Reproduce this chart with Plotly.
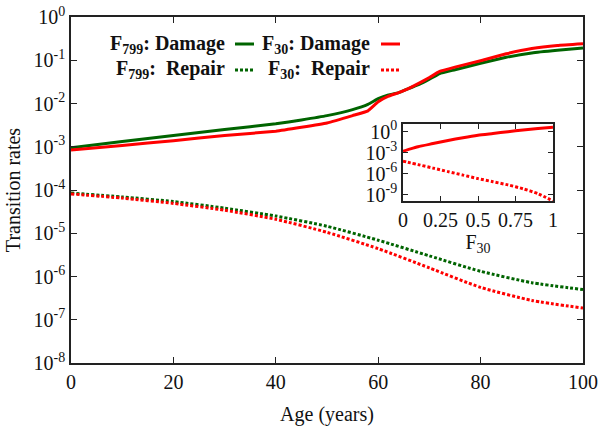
import plotly.graph_objects as go

# ---- data ----
age_damage = [0, 10, 20, 30, 40, 45, 50, 55, 58, 60, 62, 64, 66, 68, 70, 72, 75, 80, 85, 90, 95, 100]
f799_damage = [9.5e-4, 1.32e-3, 1.82e-3, 2.51e-3, 3.39e-3, 4.17e-3, 5.25e-3, 7.24e-3, 9.55e-3, 1.29e-2,
               1.58e-2, 1.78e-2, 2.24e-2, 2.75e-2, 3.63e-2, 4.90e-2, 6.03e-2, 8.51e-2, 0.117, 0.148,
               0.170, 0.191]
f30_damage = [8.4e-4, 1.07e-3, 1.38e-3, 1.82e-3, 2.29e-3, 2.82e-3, 3.55e-3, 5.25e-3, 6.76e-3, 1.10e-2,
              1.48e-2, 1.78e-2, 2.24e-2, 2.95e-2, 3.98e-2, 5.50e-2, 6.92e-2, 9.77e-2, 0.141, 0.186,
              0.219, 0.240]

age_repair = [0, 10, 20, 30, 40, 50, 60, 70, 80, 90, 100]
f799_repair = [8.5e-5, 6.9e-5, 5.4e-5, 3.8e-5, 2.5e-5, 1.45e-5, 6.9e-6, 3.0e-6, 1.32e-6, 7.2e-7, 5.0e-7]
f30_repair = [8.1e-5, 6.5e-5, 4.9e-5, 3.4e-5, 2.1e-5, 1.05e-5, 4.4e-6, 1.58e-6, 5.6e-7, 2.8e-7, 1.86e-7]

inset_f = [0, 0.05, 0.1, 0.2, 0.3, 0.4, 0.5, 0.6, 0.7, 0.8, 0.9, 1.0]
inset_damage = [1.6e-3, 3.5e-3, 7.1e-3, 2.0e-2, 5.6e-2, 0.141, 0.316, 0.56, 1.0, 1.78, 2.82, 4.47]
inset_repair = [6.3e-5, 3.5e-5, 2.0e-5, 6.3e-6, 2.0e-6, 6.3e-7, 2.0e-7, 7.1e-8, 2.5e-8, 7.1e-9, 1.4e-9, 1.26e-10]

x_ticks = [0, 20, 40, 60, 80, 100]
y_exps = [0, -1, -2, -3, -4, -5, -6, -7, -8]
inset_x_ticks = [0, 0.25, 0.5, 0.75, 1]
inset_x_labels = ["0", "0.25", "0.5", "0.75", "1"]
inset_y_exps = [0, -3, -6, -9]

GREEN = "#006400"
RED = "#ff0000"
FONT = "'Liberation Serif', 'Times New Roman', 'DejaVu Serif', serif"
DOT = "3px,2px"
TXT = "#111111"

fig = go.Figure()
fig.add_trace(go.Scatter(x=age_damage, y=f799_damage, mode="lines",
                         line=dict(color=GREEN, width=3, shape="spline", smoothing=0.3)))
fig.add_trace(go.Scatter(x=age_damage, y=f30_damage, mode="lines",
                         line=dict(color=RED, width=3, shape="spline", smoothing=0.3)))
fig.add_trace(go.Scatter(x=age_repair, y=f799_repair, mode="lines",
                         line=dict(color=GREEN, width=3, dash=DOT, shape="spline", smoothing=0.6)))
fig.add_trace(go.Scatter(x=age_repair, y=f30_repair, mode="lines",
                         line=dict(color=RED, width=3, dash=DOT, shape="spline", smoothing=0.6)))
fig.add_trace(go.Scatter(x=inset_f, y=inset_damage, mode="lines", xaxis="x2", yaxis="y2",
                         line=dict(color=RED, width=3, shape="spline", smoothing=0.6)))
fig.add_trace(go.Scatter(x=inset_f, y=inset_repair, mode="lines", xaxis="x2", yaxis="y2",
                         line=dict(color=RED, width=3, dash=DOT, shape="spline", smoothing=0.6)))

axis_common = dict(showgrid=False, zeroline=False, showline=True, linecolor="#222222", linewidth=1.5,
                   mirror="allticks", ticks="inside", tickcolor="#222222", tickwidth=1.2, automargin=False,
                   tickfont=dict(family=FONT, size=20, color=TXT))

# inset placement (paper coords)
L, R, T, B = 71, 583, 17, 363
W, H = R - L, B - T
ix0, ix1, iy0, iy1 = 403, 553, 124, 201
dom_x2 = [(ix0 - L) / W, (ix1 - L) / W]
dom_y2 = [(B - iy1) / H, (B - iy0) / H]

fig.update_layout(
    width=602, height=426,
    margin=dict(l=L, r=602 - R, t=T, b=426 - B, autoexpand=False),
    paper_bgcolor="white", plot_bgcolor="white",
    showlegend=False,
    font=dict(family=FONT, color=TXT),
    xaxis=dict(range=[0, 100], tickvals=x_ticks, ticklen=6,
               title=dict(text="Age (years)", font=dict(family=FONT, size=20, color=TXT), standoff=24),
               **axis_common),
    yaxis=dict(type="log", range=[-8, 0], tickvals=[10.0 ** e for e in y_exps],
               ticktext=["10<sup>%d</sup>" % e for e in y_exps], ticklen=6,
               title=dict(text="Transition rates", font=dict(family=FONT, size=20, color=TXT), standoff=8),
               **axis_common),
    xaxis2=dict(domain=dom_x2, anchor="y2", range=[0, 1], tickvals=inset_x_ticks, ticktext=inset_x_labels,
                ticklen=5,
                title=dict(text="F<sub>30</sub>", font=dict(family=FONT, size=20, color=TXT), standoff=0),
                **axis_common),
    yaxis2=dict(domain=dom_y2, anchor="x2", type="log", range=[-9.9, 1.1],
                tickvals=[10.0 ** e for e in inset_y_exps],
                ticktext=["10<sup>%d</sup>" % e for e in inset_y_exps], ticklen=5,
                **axis_common),
)

# white backing for the inset
fig.add_shape(type="rect", xref="paper", yref="paper", x0=dom_x2[0], x1=dom_x2[1], y0=dom_y2[0], y1=dom_y2[1],
              fillcolor="white", line=dict(width=0), layer="below")

# gnuplot-style legend (text right-aligned, sample to the right)
def px(x):
    return (x - L) / W

def py(y):
    return (B - y) / H

legend_items = [
    ("F<sub>799</sub>: Damage", GREEN, "solid", 227, 235, 254, 44),
    ("F<sub>30</sub>: Damage", RED, "solid", 372, 381, 400, 44),
    ("F<sub>799</sub>:\u00a0 Repair", GREEN, DOT, 227, 235, 254, 70),
    ("F<sub>30</sub>:\u00a0 Repair", RED, DOT, 372, 381, 400, 70),
]
for text, color, dash, xr, s0, s1, yy in legend_items:
    fig.add_annotation(xref="paper", yref="paper", x=px(xr), y=py(yy), text="<b>" + text + "</b>",
                       showarrow=False, xanchor="right", yanchor="middle",
                       font=dict(family=FONT, size=20, color=TXT))
    fig.add_shape(type="line", xref="paper", yref="paper", x0=px(s0), x1=px(s1), y0=py(yy), y1=py(yy),
                  line=dict(color=color, width=3, dash=dash))

fig.write_html("out.html")
